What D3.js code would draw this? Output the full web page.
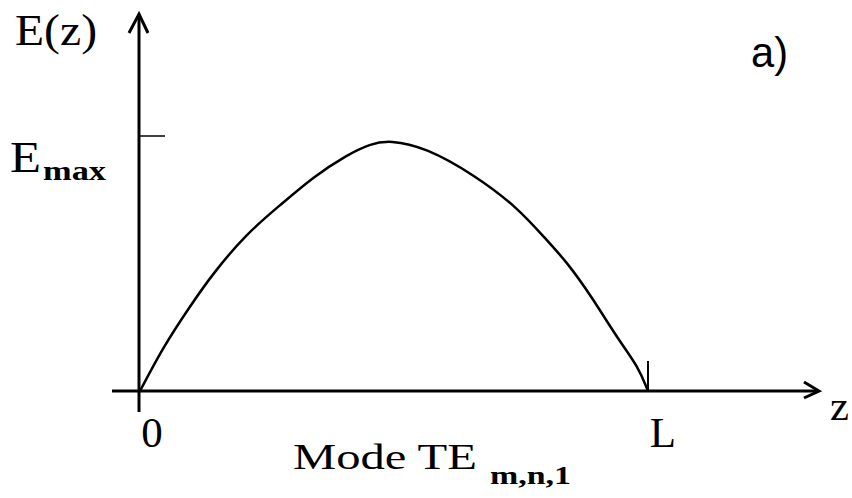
<!DOCTYPE html>
<html><head><meta charset="utf-8">
<script src="https://cdn.jsdelivr.net/npm/d3@7"></script>
<style>html,body{margin:0;padding:0;background:#fff;}</style>
</head><body>
<svg id="c" width="852" height="498"></svg>
<script>
// Field profile E(z) of mode TE m,n,1 (z in units of L, E in units of Emax)
const zValues = [0, 0.046, 0.098, 0.144, 0.210, 0.276, 0.341, 0.407, 0.453, 0.492, 0.561, 0.659, 0.745, 0.797, 0.840, 0.889, 0.942, 0.981, 1];
const eValues = [0, 0.174, 0.331, 0.462, 0.618, 0.729, 0.840, 0.925, 0.969, 0.984, 0.956, 0.847, 0.716, 0.599, 0.507, 0.370, 0.200, 0.095, 0];
const xTickLabels = ["0", "L"];
const xTickValues = [0, 1];
const yTickLabel = "E";
const yTickSub = "max";
const yTickValue = 1;
const yAxisTitle = "E(z)";
const xAxisTitle = "z";
const captionMain = "Mode TE";
const captionSub = "m,n,1";
const panelLabel = "a)";

const svg = d3.select("#c");
const x = d3.scaleLinear().domain([0, 1]).range([140, 648]);
const y = d3.scaleLinear().domain([0, 1]).range([391, 136]);
const serif = "'Liberation Serif', 'Times New Roman', serif";

// axes
svg.append("line").attr("x1", 112).attr("x2", 818).attr("y1", y(0)).attr("y2", y(0))
  .attr("stroke", "#000").attr("stroke-width", 3);
svg.append("line").attr("x1", x(0) - 1).attr("x2", x(0) - 1).attr("y1", 412).attr("y2", 14)
  .attr("stroke", "#000").attr("stroke-width", 3);
// arrow heads
svg.append("path").attr("d", `M${x(0) - 11},33 L${x(0) - 1},14 L${x(0) + 8},33`)
  .attr("fill", "none").attr("stroke", "#000").attr("stroke-width", 3);
svg.append("path").attr("d", `M804,${y(0) - 9} L819,${y(0)} L804,${y(0) + 7}`)
  .attr("fill", "none").attr("stroke", "#000").attr("stroke-width", 3);

// y tick (Emax)
svg.append("line").attr("x1", x(0)).attr("x2", x(0) + 25).attr("y1", y(yTickValue)).attr("y2", y(yTickValue))
  .attr("stroke", "#000").attr("stroke-width", 1.5);
// x tick at L
svg.append("line").attr("x1", x(1)).attr("x2", x(1)).attr("y1", y(0) - 30).attr("y2", y(0))
  .attr("stroke", "#000").attr("stroke-width", 2);

// curve
const data = zValues.map((z, i) => ({z, e: eValues[i]}));
svg.append("path").datum(data)
  .attr("d", d3.line().x(d => x(d.z)).y(d => y(d.e)).curve(d3.curveBasis))
  .attr("fill", "none").attr("stroke", "#000").attr("stroke-width", 2.5);

// texts
svg.append("text").attr("x", 15).attr("y", 45).attr("font-family", serif).attr("font-size", 45)
  .attr("textLength", 82).attr("lengthAdjust", "spacingAndGlyphs").text(yAxisTitle);
svg.append("text").attr("x", 10).attr("y", 172).attr("font-family", serif).attr("font-size", 44)
  .attr("textLength", 31).attr("lengthAdjust", "spacingAndGlyphs").text(yTickLabel);
svg.append("text").attr("x", 43).attr("y", 180).attr("font-family", serif).attr("font-weight", "bold")
  .attr("font-size", 28).attr("textLength", 63).attr("lengthAdjust", "spacingAndGlyphs").text(yTickSub);

svg.selectAll("text.xt").data(xTickValues).join("text").attr("class", "xt")
  .attr("x", (d, i) => i === 0 ? x(d) + 12 : x(d) + 15).attr("y", 447)
  .attr("text-anchor", "middle").attr("font-family", serif).attr("font-size", 43)
  .text((d, i) => xTickLabels[i]);

svg.append("text").attr("x", 830).attr("y", 420).attr("font-family", serif).attr("font-size", 43)
  .attr("textLength", 19).attr("lengthAdjust", "spacingAndGlyphs").text(xAxisTitle);

svg.append("text").attr("x", 293).attr("y", 469).attr("font-family", serif).attr("font-size", 35)
  .attr("textLength", 184).attr("lengthAdjust", "spacingAndGlyphs").text(captionMain);
svg.append("text").attr("x", 490).attr("y", 484).attr("font-family", serif).attr("font-weight", "bold")
  .attr("font-size", 26).attr("textLength", 81).attr("lengthAdjust", "spacingAndGlyphs").text(captionSub);

svg.append("text").attr("x", 751).attr("y", 67).attr("font-family", "'Liberation Sans', 'DejaVu Sans', sans-serif")
  .attr("font-size", 42).attr("textLength", 37).attr("lengthAdjust", "spacingAndGlyphs").text(panelLabel);
</script>
</body></html>
